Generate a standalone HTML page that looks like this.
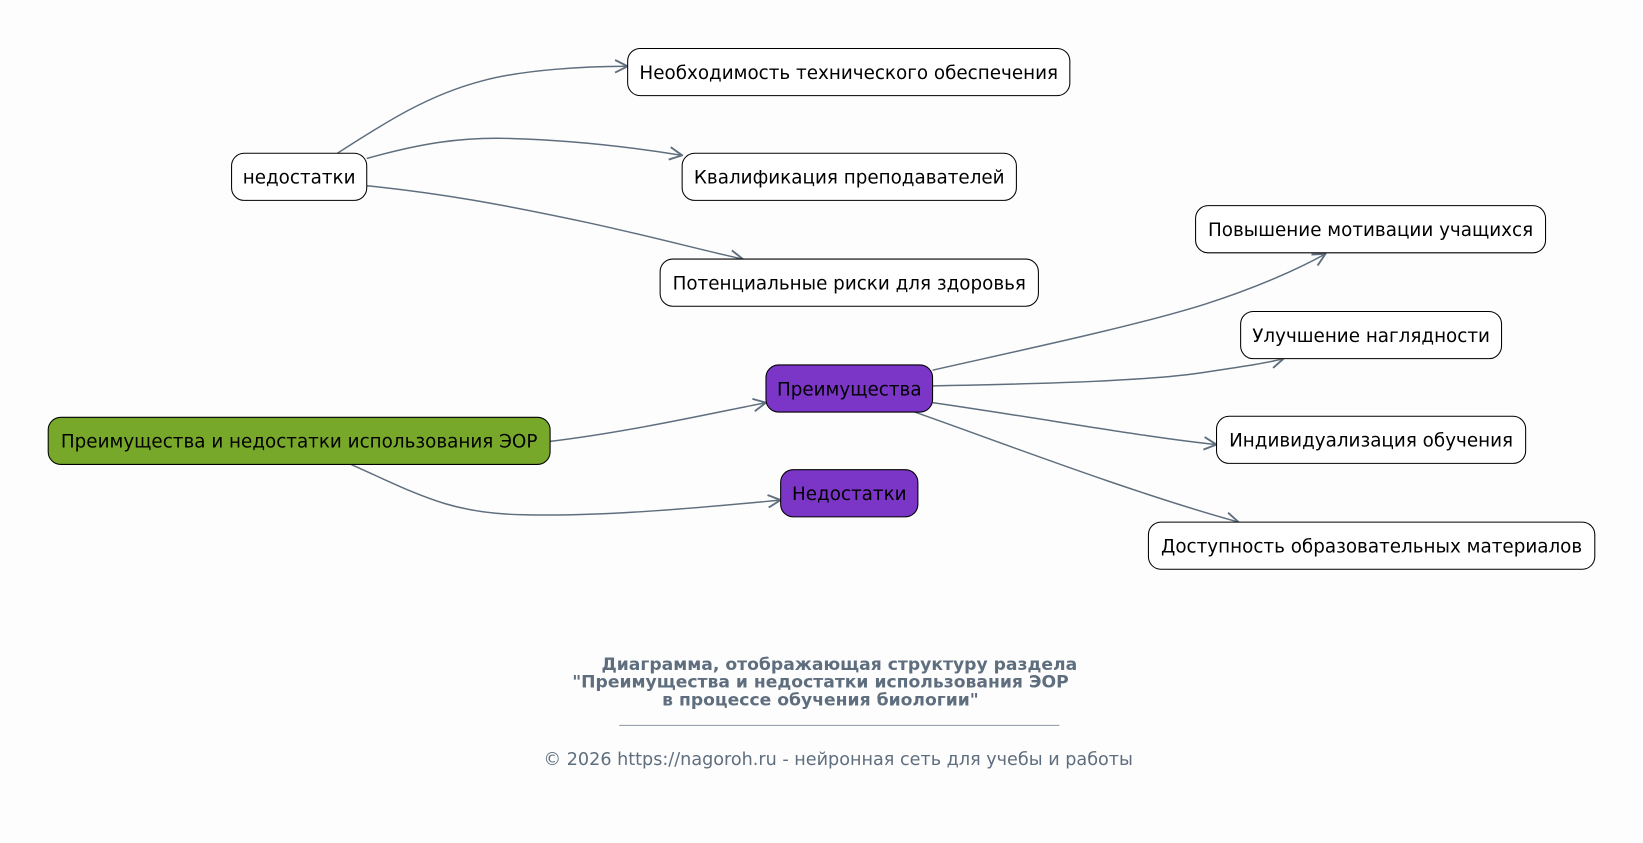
<!DOCTYPE html>
<html><head><meta charset="utf-8"><style>
html,body{margin:0;padding:0;background:#fdfdfd;}
svg{display:block;}
text{font-family:"DejaVu Sans","Liberation Sans",sans-serif;}
</style></head><body>
<svg width="1643" height="843" viewBox="0 0 1568 804" xmlns="http://www.w3.org/2000/svg">
<defs>
<marker id="a" viewBox="0 0 14 14" refX="13" refY="7" markerWidth="14" markerHeight="14" markerUnits="userSpaceOnUse" orient="auto">
<path d="M1,1 L13,7 L1,13" fill="none" stroke="#5f6e7e" stroke-width="1.8"/>
</marker>
</defs>
<rect width="1568" height="804" fill="#fdfdfd"/>
<g fill="none" stroke="#5f6e7e" stroke-width="1.4" marker-end="url(#a)">
<path d="M525,421 C600,412 680,394 731,384"/>
<path d="M335,443 C400,472 430,490 500,491 C580,493 680,483 745,477"/>
<path d="M890,353 C960,337 1080,312 1150,290 C1200,274 1240,256 1265,242"/>
<path d="M890,368 C1000,366 1100,363 1150,355 C1190,349 1210,346 1225,342"/>
<path d="M890,384 C1000,400 1100,418 1161,424"/>
<path d="M873,393 C950,420 1080,470 1182,498"/>
<path d="M322,146 C370,115 410,90 460,77 C500,66 560,63 599,63"/>
<path d="M350,151 C400,137 440,130 490,132 C560,134 620,143 651,148"/>
<path d="M350,177 C420,184 480,195 560,212 C620,225 680,241 709,247"/>
</g>
<g stroke="#000" stroke-width="1">
<rect x="46" y="398" width="479" height="45" rx="12" fill="#78a82a"/>
<rect x="731" y="348" width="159" height="45" rx="12" fill="#7b35c7"/>
<rect x="745" y="448" width="131" height="45" rx="12" fill="#7b35c7"/>
<rect x="221" y="146" width="129" height="45" rx="12" fill="#fff"/>
<rect x="599" y="46" width="422" height="45" rx="12" fill="#fff"/>
<rect x="651" y="146" width="319" height="45" rx="12" fill="#fff"/>
<rect x="630" y="247" width="361" height="45" rx="12" fill="#fff"/>
<rect x="1141" y="196" width="334" height="45" rx="12" fill="#fff"/>
<rect x="1184" y="297" width="249" height="45" rx="12" fill="#fff"/>
<rect x="1161" y="397" width="295" height="45" rx="12" fill="#fff"/>
<rect x="1096" y="498" width="426" height="45" rx="12" fill="#fff"/>
</g>
<g font-size="17.5" fill="#000" text-anchor="middle">
<text x="285.5" y="427">Преимущества и недостатки использования ЭОР</text>
<text x="810.5" y="377">Преимущества</text>
<text x="810.5" y="477">Недостатки</text>
<text x="285.5" y="175">недостатки</text>
<text x="810" y="75">Необходимость технического обеспечения</text>
<text x="810.5" y="175">Квалификация преподавателей</text>
<text x="810.5" y="276">Потенциальные риски для здоровья</text>
<text x="1308" y="225">Повышение мотивации учащихся</text>
<text x="1308.5" y="326">Улучшение наглядности</text>
<text x="1308.5" y="426">Индивидуализация обучения</text>
<text x="1309" y="527">Доступность образовательных материалов</text>
</g>
<g font-size="16.4" font-weight="bold" fill="#5f6e7e" text-anchor="middle">
<text x="801" y="639">Диаграмма, отображающая структуру раздела</text>
<text x="783" y="656">"Преимущества и недостатки использования ЭОР</text>
<text x="783" y="673">в процессе обучения биологии"</text>
</g>
<line x1="591" y1="692" x2="1011" y2="692" stroke="#8a96a3" stroke-width="1"/>
<text x="800" y="730" font-size="16.8" fill="#5f6e7e" text-anchor="middle">© 2026 https://nagoroh.ru - нейронная сеть для учебы и работы</text>
</svg>
</body></html>
